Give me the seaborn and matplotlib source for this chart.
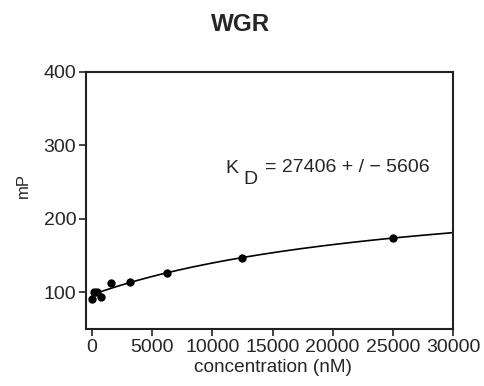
import numpy as np
import pandas as pd
import matplotlib
matplotlib.use("Agg")
import matplotlib.pyplot as plt
import seaborn as sns

sns.set_theme(style="ticks")
plt.rcParams['font.family'] = ['Liberation Sans', 'DejaVu Sans']

# Data
concentration = [0, 195, 390, 781, 1562, 3125, 6250, 12500, 25000]
mp_values = [91.5, 101, 101, 93, 113, 114.5, 126, 147, 173.5]
KD = 27406
KD_ERR = 5606
title = "WGR"
x_ticks = [0, 5000, 10000, 15000, 20000, 25000, 30000]
y_ticks = [100, 200, 300, 400]

df = pd.DataFrame({"concentration": concentration, "mP": mp_values})

# one-site binding fit with the reported KD (fit baseline and amplitude)
xa = np.array(concentration, float)
frac = xa / (KD + xa)
A = np.vstack([np.ones_like(frac), frac]).T
b0, bmax = np.linalg.lstsq(A, np.array(mp_values), rcond=None)[0]
xc = np.linspace(0, 30000, 300)
curve = pd.DataFrame({"concentration": xc, "mP": b0 + bmax * xc / (KD + xc)})

W, H = 484, 386
fig = plt.figure(figsize=(W/100, H/100), dpi=100)
ax = fig.add_axes([86/W, 1-329/H, (453-86)/W, (329-72)/H])

sns.lineplot(data=curve, x="concentration", y="mP", ax=ax, color="black", lw=1.2)
sns.scatterplot(data=df, x="concentration", y="mP", ax=ax, color="black", s=36,
                edgecolor="black", linewidth=0, zorder=3)

ax.set_xlim(-500, 30000)
ax.set_ylim(50, 400)
ax.set_xticks(x_ticks)
ax.set_yticks(y_ticks)
ax.tick_params(axis="both", labelsize=14, length=5, width=1.2, color="#222222", pad=2)
for s in ax.spines.values():
    s.set_visible(True)
    s.set_linewidth(1.5)
    s.set_color("#222222")
ax.set_xlabel("")
ax.set_ylabel("")
fig.text(273/W, 1-371.5/H, "concentration (nM)", ha="center", va="baseline", fontsize=13.7)
fig.text(23/W, 1-185.5/H, "mP", ha="center", va="center", rotation=90, fontsize=12)
fig.text(241/W, 1-30.7/H, title, ha="center", va="baseline", fontsize=17.5, fontweight="bold")

ax.text(11055, 269, "K", fontsize=14, ha="left", va="center")
ax.text(12550, 254, "D", fontsize=14, ha="left", va="center")
ax.text(14380, 270.5, f"= {KD} + / \u2212 {KD_ERR}", fontsize=14, ha="left", va="center")

fig.savefig("out.png", dpi=100)
